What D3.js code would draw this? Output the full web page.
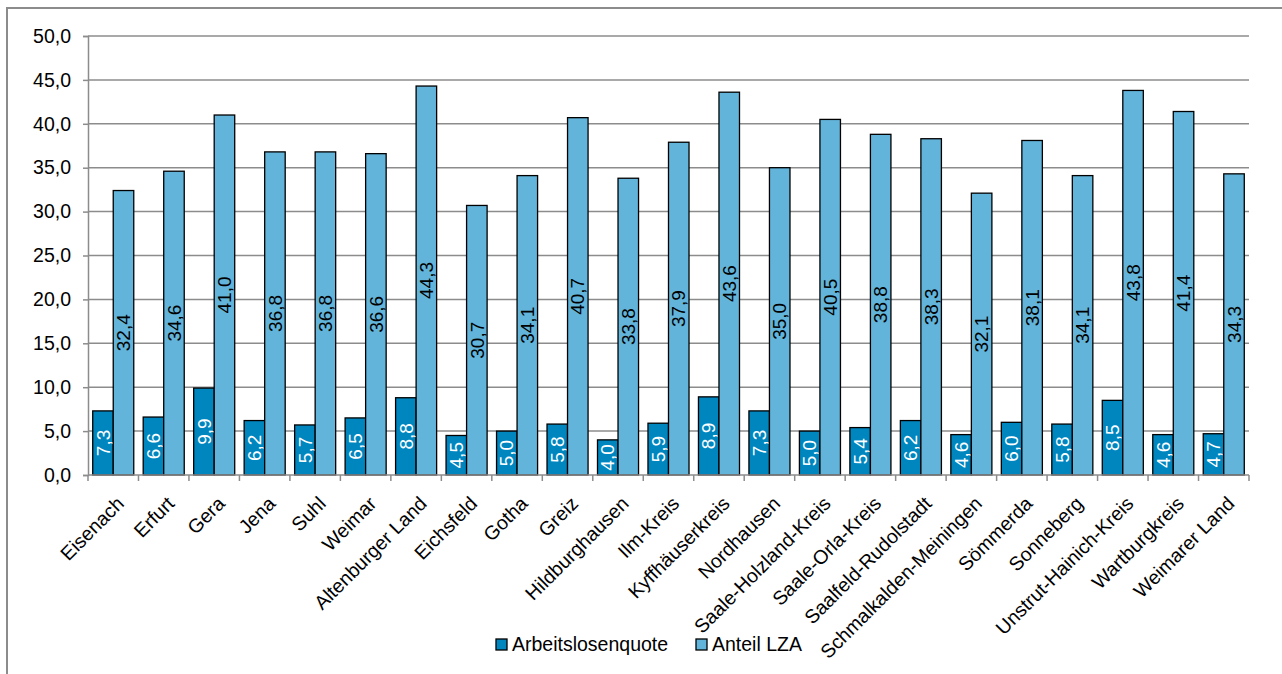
<!DOCTYPE html>
<html>
<head>
<meta charset="utf-8">
<script src="https://cdn.jsdelivr.net/npm/d3@7"></script>
<style>
  html, body { margin: 0; padding: 0; background: #fff; }
  svg { display: block; font-family: "Liberation Sans", Arial, sans-serif; }
</style>
</head>
<body>
<svg id="chart" width="1282" height="674"></svg>
<script>
// Thüringer Kreise und kreisfreie Städte
const categories = [
  "Eisenach", "Erfurt", "Gera", "Jena", "Suhl", "Weimar", "Altenburger Land",
  "Eichsfeld", "Gotha", "Greiz", "Hildburghausen", "Ilm-Kreis", "Kyffhäuserkreis",
  "Nordhausen", "Saale-Holzland-Kreis", "Saale-Orla-Kreis", "Saalfeld-Rudolstadt",
  "Schmalkalden-Meiningen", "Sömmerda", "Sonneberg", "Unstrut-Hainich-Kreis",
  "Wartburgkreis", "Weimarer Land"
];
const arbeitslosenquote = [7.3, 6.6, 9.9, 6.2, 5.7, 6.5, 8.8, 4.5, 5.0, 5.8, 4.0, 5.9, 8.9,
  7.3, 5.0, 5.4, 6.2, 4.6, 6.0, 5.8, 8.5, 4.6, 4.7];
const anteilLZA = [32.4, 34.6, 41.0, 36.8, 36.8, 36.6, 44.3, 30.7, 34.1, 40.7, 33.8, 37.9, 43.6,
  35.0, 40.5, 38.8, 38.3, 32.1, 38.1, 34.1, 43.8, 41.4, 34.3];
const seriesNames = ["Arbeitslosenquote", "Anteil LZA"];
const yTicks = [0, 5, 10, 15, 20, 25, 30, 35, 40, 45, 50];

const colors = { "Arbeitslosenquote": "#0086bf", "Anteil LZA": "#62b4da" };
const labelColors = { "Arbeitslosenquote": "#ffffff", "Anteil LZA": "#000000" };
const fontSize = 19.5;
const fmt = v => v.toFixed(1).replace(".", ",");

const svg = d3.select("#chart");

// outer chart frame (left and top edges fall inside the page)
svg.append("rect")
  .attr("x", 7).attr("y", 8)
  .attr("width", 1300).attr("height", 700)
  .attr("fill", "none").attr("stroke", "#8c8c8c").attr("stroke-width", 2);

const plot = { left: 88, right: 1249, top: 36, bottom: 475 };

const x = d3.scaleBand().domain(categories).range([plot.left, plot.right]).padding(0);
const xs = d3.scaleBand().domain(seriesNames).range([0, x.bandwidth()])
  .paddingInner(0).paddingOuter(0.23);
const y = d3.scaleLinear().domain([0, 50]).range([plot.bottom, plot.top]);

// horizontal gridlines
svg.append("g").selectAll("line").data(yTicks.filter(t => t > 0)).join("line")
  .attr("x1", plot.left).attr("x2", plot.right)
  .attr("y1", d => y(d)).attr("y2", d => y(d))
  .attr("stroke", "#8c8c8c").attr("stroke-width", 1.5);

// y axis
const yAxis = svg.append("g")
  .attr("transform", `translate(${plot.left},0)`)
  .call(d3.axisLeft(y).tickValues(yTicks).tickSize(5).tickPadding(12).tickFormat(fmt));
yAxis.select(".domain").attr("stroke", "#8c8c8c").attr("stroke-width", 1.5);
yAxis.selectAll(".tick line").attr("stroke", "#8c8c8c").attr("stroke-width", 1.5);
yAxis.selectAll(".tick text")
  .attr("font-size", fontSize).attr("fill", "#000")
  .attr("font-family", "Liberation Sans, Arial, sans-serif");

// rows of grouped values
const rows = categories.map((c, i) => ({
  cat: c,
  values: [
    { key: "Arbeitslosenquote", value: arbeitslosenquote[i] },
    { key: "Anteil LZA", value: anteilLZA[i] }
  ]
}));

const groups = svg.append("g").selectAll("g").data(rows).join("g")
  .attr("transform", d => `translate(${x(d.cat)},0)`);

groups.selectAll("rect").data(d => d.values).join("rect")
  .attr("x", d => xs(d.key))
  .attr("y", d => y(d.value))
  .attr("width", xs.bandwidth())
  .attr("height", d => y(0) - y(d.value))
  .attr("fill", d => colors[d.key])
  .attr("stroke", "#000").attr("stroke-width", 1.3);

// value labels, rotated and centred in each bar
groups.selectAll("text.val").data(d => d.values).join("text")
  .attr("class", "val")
  .attr("transform", d => {
    const cx = xs(d.key) + xs.bandwidth() / 2;
    const cy = (y(0) + y(d.value)) / 2;
    return `translate(${cx},${cy}) rotate(-90)`;
  })
  .attr("text-anchor", "middle")
  .attr("dy", "0.35em")
  .attr("font-size", 19)
  .attr("fill", d => labelColors[d.key])
  .text(d => fmt(d.value));

// x axis
const xAxis = svg.append("g");
xAxis.append("line")
  .attr("x1", plot.left).attr("x2", plot.right)
  .attr("y1", plot.bottom).attr("y2", plot.bottom)
  .attr("stroke", "#8c8c8c").attr("stroke-width", 1.5);
const boundaries = categories.map(c => x(c)).concat([x.range()[1]]);
xAxis.selectAll("line.tick").data(boundaries).join("line")
  .attr("class", "tick")
  .attr("x1", d => d).attr("x2", d => d)
  .attr("y1", plot.bottom).attr("y2", plot.bottom + 6)
  .attr("stroke", "#8c8c8c").attr("stroke-width", 1.5);

xAxis.selectAll("text").data(categories).join("text")
  .attr("transform", d => `translate(${x(d) + x.bandwidth() / 2 + 2},${plot.bottom + 20}) rotate(-45)`)
  .attr("text-anchor", "end")
  .attr("dy", "0.72em")
  .attr("font-size", fontSize)
  .attr("fill", "#000")
  .text(d => d);

// legend
const legendItems = [
  { key: "Arbeitslosenquote", x: 496 },
  { key: "Anteil LZA", x: 696 }
];
const legend = svg.append("g").selectAll("g").data(legendItems).join("g")
  .attr("transform", d => `translate(${d.x},639)`);
legend.append("rect")
  .attr("width", 11).attr("height", 11)
  .attr("fill", d => colors[d.key])
  .attr("stroke", "#000").attr("stroke-width", 1.3);
legend.append("text")
  .attr("x", 16).attr("y", 12)
  .attr("font-size", fontSize).attr("fill", "#000")
  .text(d => d.key);
</script>
</body>
</html>
